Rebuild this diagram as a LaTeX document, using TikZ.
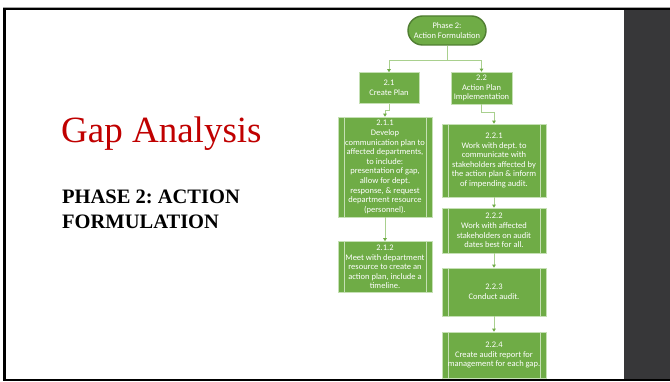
\documentclass[tikz,border=0pt]{standalone}
\usepackage{fontspec}
\setmainfont{Liberation Serif}
\newfontfamily\boxfont{Carlito}
\usetikzlibrary{arrows.meta,shapes.misc}
\frenchspacing
\definecolor{gfill}{HTML}{6FAC46}
\definecolor{gdark}{HTML}{507E32}
\definecolor{gedge}{HTML}{C5E0B4}
\definecolor{gline}{HTML}{A9D08E}
\definecolor{titlered}{HTML}{C00000}
\definecolor{panel}{HTML}{373739}
\tikzset{
  boxtext/.style={text=white, font=\boxfont\fontsize{8.5}{9.6}\selectfont, align=center, inner sep=0pt},
  term/.style={boxtext, rounded rectangle, fill=gfill, draw=gdark, line width=1.4pt, minimum width=78pt, minimum height=29pt},
  plainbox/.style={boxtext, rectangle, fill=gfill, draw=gedge, line width=0.6pt},
  subbox/.style={plainbox, path picture={
      \draw[gedge, line width=0.6pt] ([xshift=6pt]path picture bounding box.north west) -- ([xshift=6pt]path picture bounding box.south west);
      \draw[gedge, line width=0.6pt] ([xshift=-6pt]path picture bounding box.north east) -- ([xshift=-6pt]path picture bounding box.south east);}},
  conn/.style={draw=gline, line width=0.8pt, -{Triangle[length=3pt,width=3.5pt,color=gfill]}},
}
\begin{document}
\begin{tikzpicture}[x=1pt,y=-1pt]
\useasboundingbox (0,0) rectangle (670,382);
% frame
\fill[white] (0,0) rectangle (670,382);
\fill[gray!70] (3,7) rectangle (670,8);
\fill[black] (3,8) rectangle (670,10.5);
\fill[black] (3,8) rectangle (6,381);
\fill[black] (3,379) rectangle (670,381);
\fill[panel] (624,10.5) rectangle (670,379);
% titles
\node[anchor=base west, inner sep=0pt, text=titlered, font=\fontsize{37}{42}\selectfont] (title) at (61,143) {Gap Analysis};
\node[anchor=base west, inner sep=0pt, font=\bfseries\fontsize{20.5}{24}\selectfont] (ph1) at (62,204) {PHASE 2: ACTION};
\node[anchor=base west, inner sep=0pt, font=\bfseries\fontsize{20.5}{24}\selectfont] (ph2) at (62,229) {FORMULATION};
% flowchart
\node[term] (t) at (447,30.5) {Phase 2:\\Action Formulation};
\node[plainbox, minimum width=60pt, minimum height=31pt] (b21) at (389,88) {2.1\\Create Plan};
\node[plainbox, minimum width=61pt, minimum height=32pt] (b22) at (481.5,88) {2.2\\Action Plan\\Implementation};
\node[subbox, minimum width=94pt, minimum height=100pt] (b211) at (385,167) {2.1.1\\Develop\\communication plan to\\affected departments,\\to include:\\presentation of gap,\\allow for dept.\\response, \& request\\department resource\\(personnel).};
\node[subbox, minimum width=94pt, minimum height=51pt] (b212) at (385,267) {2.1.2\\Meet with department\\resource to create an\\action plan, include a\\timeline.};
\node[subbox, minimum width=104pt, minimum height=73pt] (b221) at (494,160.5) {2.2.1\\Work with dept. to\\communicate with\\stakeholders affected by\\the action plan \& inform\\of impending audit.};
\node[subbox, minimum width=104pt, minimum height=45pt] (b222) at (494,230.5) {2.2.2\\Work with affected\\stakeholders on audit\\dates best for all.};
\node[subbox, minimum width=104pt, minimum height=48pt] (b223) at (494,292) {2.2.3\\Conduct audit.};
\node[subbox, minimum width=104pt, minimum height=46pt] (b224) at (494,355) {2.2.4\\Create audit report for\\management for each gap.};
% connectors
\draw[conn] (t.south) -- ++(0,15) -| (b21.north);
\draw[conn] (t.south) -- ++(0,15) -| (b22.north);
\draw[conn] (b21.south) -- ++(0,7) -| (b211.north);
\draw[conn] (b22.south) -- ++(0,8) -| (b221.north);
\draw[conn] (b211.south) -- (b212.north);
\draw[conn] (b221.south) -- (b222.north);
\draw[conn] (b222.south) -- (b223.north);
\draw[conn] (b223.south) -- (b224.north);
\end{tikzpicture}
\end{document}
